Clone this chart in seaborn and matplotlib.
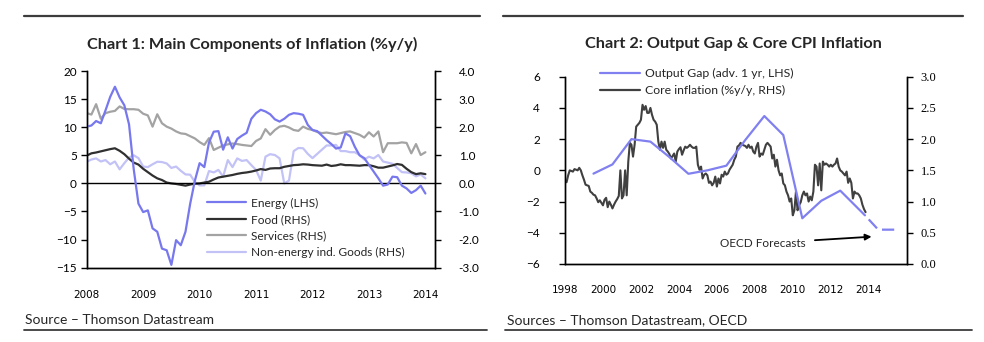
import numpy as np
import pandas as pd
import matplotlib
matplotlib.use("Agg")
import matplotlib.pyplot as plt
from matplotlib.lines import Line2D
import seaborn as sns

sns.set_theme(style="white")
plt.rcParams['font.family'] = ['Lato', 'DejaVu Sans']

# ---------------- Chart 1 data (monthly, Jan 2008 - Jan 2014) ----------------
c1_start_year = 2008
energy = [10.1, 10.3, 11.1, 10.7, 13.0, 15.4, 17.2, 15.3, 13.9, 10.5, 2.5, -3.6,
          -5.1, -4.8, -8.0, -8.6, -11.6, -11.9, -14.5, -10.1, -11.0, -8.6, -3.6, 0.5,
          3.6, 2.9, 7.3, 9.2, 9.3, 6.0, 8.2, 6.2, 7.9, 8.5, 9.0, 11.5,
          12.5, 13.1, 12.8, 12.3, 11.4, 11.0, 11.5, 12.2, 12.5, 12.4, 12.2, 10.4,
          9.5, 9.3, 8.5, 7.7, 7.0, 6.2, 6.4, 8.9, 8.4, 6.5, 5.0, 4.5,
          3.3, 2.1, 0.9, -0.4, -0.2, 1.2, 1.1, -0.4, -0.9, -1.7, -1.2, -0.4, -1.8]
food = [0.99, 1.07, 1.10, 1.14, 1.18, 1.22, 1.25, 1.16, 1.04, 0.88, 0.74, 0.67,
        0.52, 0.40, 0.28, 0.18, 0.12, 0.03, 0.00, -0.02, -0.05, -0.08, -0.04, -0.01,
        0.00, 0.03, 0.06, 0.14, 0.21, 0.24, 0.27, 0.30, 0.34, 0.37, 0.39, 0.42,
        0.46, 0.51, 0.48, 0.53, 0.54, 0.54, 0.59, 0.62, 0.65, 0.66, 0.68, 0.67,
        0.65, 0.64, 0.63, 0.67, 0.62, 0.64, 0.68, 0.65, 0.65, 0.64, 0.63, 0.65,
        0.65, 0.61, 0.56, 0.56, 0.60, 0.64, 0.69, 0.66, 0.52, 0.40, 0.33, 0.36, 0.33]
services = [2.50, 2.45, 2.82, 2.30, 2.50, 2.55, 2.58, 2.74, 2.65, 2.64, 2.64, 2.62,
            2.48, 2.42, 2.02, 2.46, 2.14, 2.02, 1.95, 1.85, 1.78, 1.76, 1.68, 1.60,
            1.47, 1.37, 1.61, 1.19, 1.27, 1.35, 1.39, 1.42, 1.40, 1.37, 1.35, 1.33,
            1.51, 1.60, 1.93, 1.73, 1.90, 2.02, 2.05, 1.99, 1.90, 1.87, 2.02, 1.94,
            1.90, 1.83, 1.79, 1.81, 1.78, 1.75, 1.79, 1.83, 1.85, 1.79, 1.73, 1.63,
            1.82, 1.67, 1.85, 1.11, 1.43, 1.43, 1.43, 1.46, 1.44, 1.07, 1.40, 1.01, 1.11]
neig = [0.77, 0.85, 0.89, 0.78, 0.83, 0.68, 0.78, 0.50, 0.72, 0.92, 1.00, 0.90,
        0.60, 0.58, 0.68, 0.77, 0.76, 0.71, 0.55, 0.60, 0.45, 0.32, 0.31, 0.05,
        -0.07, -0.07, 0.44, 0.39, 0.48, 0.24, 0.83, 0.58, 0.89, 0.80, 0.83, 0.65,
        0.48, 0.10, 0.95, 1.04, 1.01, 0.89, 0.00, 0.10, 1.15, 1.26, 1.25, 1.05,
        0.90, 1.05, 1.20, 1.35, 1.35, 1.37, 1.15, 1.15, 1.11, 1.11, 1.01, 0.85,
        0.95, 0.89, 1.01, 0.78, 0.74, 0.70, 0.55, 0.40, 0.39, 0.36, 0.25, 0.32, 0.18]
c1_labels = ["Energy (LHS)", "Food (RHS)", "Services (RHS)", "Non-energy ind. Goods (RHS)"]
c1_years = [2008, 2009, 2010, 2011, 2012, 2013, 2014]

# ---------------- Chart 2 data ----------------
core_start_year = 1998  # monthly from Jan 1998
core = [1.34, 1.31, 1.42, 1.50, 1.49, 1.48, 1.52, 1.51, 1.50, 1.54, 1.50, 1.42,
        1.35, 1.27, 1.26, 1.25, 1.16, 1.14, 1.11, 1.10, 1.05, 0.99, 1.02, 0.98,
        0.94, 1.03, 1.06, 0.91, 1.00, 0.95, 0.89, 0.95, 1.00, 1.04, 1.09, 1.50,
        1.05, 1.10, 1.50, 1.10, 1.64, 1.94, 1.91, 1.72, 1.91, 2.20, 2.23, 2.26,
        2.31, 2.55, 2.47, 2.53, 2.42, 2.42, 2.50, 2.39, 2.31, 2.28, 2.23, 1.96,
        1.83, 1.96, 1.86, 1.96, 1.83, 1.80, 1.76, 1.69, 1.73, 1.77, 1.64, 1.80,
        1.84, 1.87, 1.75, 1.82, 1.88, 1.86, 1.88, 1.91, 1.88, 1.86, 1.86, 1.88,
        1.59, 1.51, 1.56, 1.37, 1.43, 1.45, 1.42, 1.30, 1.32, 1.26, 1.30, 1.40,
        1.24, 1.37, 1.29, 1.43, 1.40, 1.48, 1.43, 1.45, 1.51, 1.55, 1.59, 1.67,
        1.72, 1.88, 1.90, 1.94, 1.91, 1.90, 1.89, 1.86, 1.91, 1.86, 1.88, 1.80,
        1.77, 1.88, 1.94, 1.72, 1.77, 1.75, 1.83, 1.91, 1.94, 1.91, 1.88, 1.69,
        1.75, 1.56, 1.67, 1.50, 1.42, 1.45, 1.29, 1.26, 1.16, 1.10, 1.00, 1.05,
        0.78, 0.86, 1.16, 0.86, 0.94, 0.99, 1.10, 1.16, 1.10, 1.13, 1.00, 1.08,
        1.02, 1.16, 1.59, 1.56, 1.26, 1.61, 1.18, 1.64, 1.59, 1.61, 1.59, 1.56,
        1.59, 1.56, 1.59, 1.61, 1.69, 1.56, 1.50, 1.48, 1.45, 1.42, 1.48, 1.30,
        1.37, 1.30, 1.05, 1.16, 1.13, 1.13, 1.10, 1.05, 0.95, 0.88, 0.83]
gap_x = [1999.5, 2000.5, 2001.5, 2002.5, 2003.5, 2004.5, 2005.5, 2006.5,
         2007.5, 2008.5, 2009.5, 2010.5, 2011.5, 2012.5, 2013.8]
gap_v = [-0.21, 0.38, 2.0, 1.84, 0.85, -0.22, 0.0, 0.30,
         1.95, 3.48, 2.26, -3.07, -1.95, -1.30, -2.88]
fc_x = [2013.8, 2014.5, 2015.5]
fc_v = [-2.88, -3.80, -3.80]
c2_labels = ["Output Gap (adv. 1 yr, LHS)", "Core inflation (%y/y, RHS)"]
c2_ticks = [1998, 2000, 2002, 2004, 2006, 2008, 2010, 2012, 2014, 2016]

# colours
C_ENERGY = '#7878EE'
C_FOOD = '#303030'
C_SERV = '#A3A3A3'
C_NEIG = '#C2C2F6'
C_GAP = '#8080F0'
C_CORE = '#404040'

W, H = 984, 342
fig = plt.figure(figsize=(W / 100, H / 100), dpi=100)

def box(l, t, r, b):
    return [l / W, 1 - b / H, (r - l) / W, (b - t) / H]

def style_axes(ax, ax2):
    for a in (ax, ax2):
        for s in a.spines.values():
            s.set_color('black')
            s.set_linewidth(1.0)
        a.spines['top'].set_visible(False)
        a.grid(False)
        a.set_facecolor('none')
    ax.tick_params(axis='both', direction='out', length=4, width=1, color='black',
                   labelcolor='black')
    ax2.tick_params(axis='y', direction='out', length=4, width=1, color='black',
                    labelcolor='black')

# ---------------- Chart 1 ----------------
m = np.arange(len(energy))
d1 = pd.DataFrame({'x': c1_start_year + m / 12.0, 'Energy': energy, 'Food': food,
                   'Services': services, 'NEIG': neig})
ax1 = fig.add_axes(box(86.7, 71, 435, 267.7))
ax1r = ax1.twinx()
ax1.axhline(0, color='black', lw=1.0, zorder=1)
sns.lineplot(data=d1, x='x', y='Energy', ax=ax1, color=C_ENERGY, lw=1.6, legend=False)
sns.lineplot(data=d1, x='x', y='NEIG', ax=ax1r, color=C_NEIG, lw=1.6, legend=False)
sns.lineplot(data=d1, x='x', y='Services', ax=ax1r, color=C_SERV, lw=1.6, legend=False)
sns.lineplot(data=d1, x='x', y='Food', ax=ax1r, color=C_FOOD, lw=1.6, legend=False)
ax1.set_zorder(ax1r.get_zorder() + 1)
ax1.set_xlim(2008, 2014.17)
ax1.set_ylim(-15, 20)
ax1r.set_ylim(-3, 4)
ax1.set_yticks(np.arange(-15, 21, 5))
ax1r.set_yticks(np.arange(-3, 4.01, 1))
ax1r.set_yticklabels([f"{v:.1f}" for v in np.arange(-3, 4.01, 1)])
ax1.set_xticks(c1_years)
ax1.set_xticklabels([str(y) for y in c1_years], fontsize=7.5,
                    family=['Liberation Sans Narrow', 'DejaVu Sans'])
ax1.tick_params(axis='x', pad=12)
ax1.set_xlabel('')
ax1.set_ylabel('')
ax1r.set_ylabel('')
style_axes(ax1, ax1r)
ax1.tick_params(axis='y', labelsize=8.5, pad=3)
ax1r.tick_params(axis='y', labelsize=8.5, pad=13)
ax1.patch.set_visible(False)

h1 = [Line2D([], [], color=c, lw=1.6) for c in (C_ENERGY, C_FOOD, C_SERV, C_NEIG)]
fig.legend(h1, c1_labels, loc='upper left', bbox_to_anchor=(206.7 / W, 1 - 197.5 / H),
           frameon=False, fontsize=8.6, handlelength=3.3, handletextpad=0.4,
           labelspacing=0.45, borderpad=0, borderaxespad=0)

# ---------------- Chart 2 ----------------
mc = np.arange(len(core))
d_core = pd.DataFrame({'x': core_start_year + mc / 12.0, 'v': core})
d_gap = pd.DataFrame({'x': gap_x, 'v': gap_v})
d_fc = pd.DataFrame({'x': fc_x, 'v': fc_v})

ax2 = fig.add_axes(box(565, 76.7, 906.7, 264))
ax2r = ax2.twinx()
sns.lineplot(data=d_core, x='x', y='v', ax=ax2r, color=C_CORE, lw=1.5, legend=False)
sns.lineplot(data=d_gap, x='x', y='v', ax=ax2, color=C_GAP, lw=1.6, legend=False)
sns.lineplot(data=d_fc, x='x', y='v', ax=ax2, color=C_GAP, lw=1.6, legend=False,
             linestyle=(5.5, (5.5, 2.5)))
ax2.set_xlim(1998, 2016)
ax2.set_ylim(-6, 6)
ax2r.set_ylim(0, 3)
ax2.set_yticks(np.arange(-6, 7, 2))
ax2r.set_yticks(np.arange(0, 3.01, 0.5))
ax2r.set_yticklabels([f"{v:.1f}" for v in np.arange(0, 3.01, 0.5)],
                     family=['Liberation Serif', 'DejaVu Serif'])
ax2.set_xticks(c2_ticks)
ax2.set_xticklabels([str(y) if y <= 2014 else '' for y in c2_ticks], fontsize=7.5,
                    family=['Liberation Sans Narrow', 'DejaVu Sans'])
ax2.tick_params(axis='x', pad=11)
for a in (ax2, ax2r):
    a.set_xlabel('')
    a.set_ylabel('')
style_axes(ax2, ax2r)
ax2.tick_params(axis='y', labelsize=8.5, pad=14)
ax2r.tick_params(axis='y', labelsize=9, pad=6)
ax2.set_zorder(ax2r.get_zorder() + 1)
ax2.patch.set_visible(False)

ax2.annotate("OECD Forecasts", xy=(2014.15, -4.25), xytext=(2010.7, -4.68),
             ha='right', va='center', fontsize=8.5,
             arrowprops=dict(arrowstyle='-|>', color='black', lw=1.3,
                             shrinkA=4, shrinkB=0, mutation_scale=9))

h2 = [Line2D([], [], color=C_GAP, lw=1.6), Line2D([], [], color=C_CORE, lw=1.6)]
fig.legend(h2, c2_labels, loc='upper left', bbox_to_anchor=(600 / W, 1 - 68 / H),
           frameon=False, fontsize=8.8, handlelength=3.3, handletextpad=0.4,
           labelspacing=0.5, borderpad=0, borderaxespad=0)

# ---------------- Titles, rules, sources ----------------
fig.text(252 / W, 1 - 44 / H, "Chart 1: Main Components of Inflation (%y/y)",
         ha='center', va='center', fontsize=11.7, fontweight='bold')
fig.text(733 / W, 1 - 44 / H, "Chart 2: Output Gap & Core CPI Inflation",
         ha='center', va='center', fontsize=11.7, fontweight='bold')
for (x0, x1) in [(24, 480), (503, 963)]:
    fig.add_artist(Line2D([x0 / W, x1 / W], [1 - 15.7 / H] * 2, color='#3c3c3c', lw=1.6))
for (x0, x1) in [(24, 487), (505, 972)]:
    fig.add_artist(Line2D([x0 / W, x1 / W], [1 - 330 / H] * 2, color='#3c3c3c', lw=1.3))
fig.text(25 / W, 1 - 320 / H, "Source \u2013 Thomson Datastream", ha='left', va='center',
         fontsize=10)
fig.text(507 / W, 1 - 320 / H, "Sources \u2013 Thomson Datastream, OECD", ha='left',
         va='center', fontsize=10)

fig.savefig("out.png", dpi=100)
